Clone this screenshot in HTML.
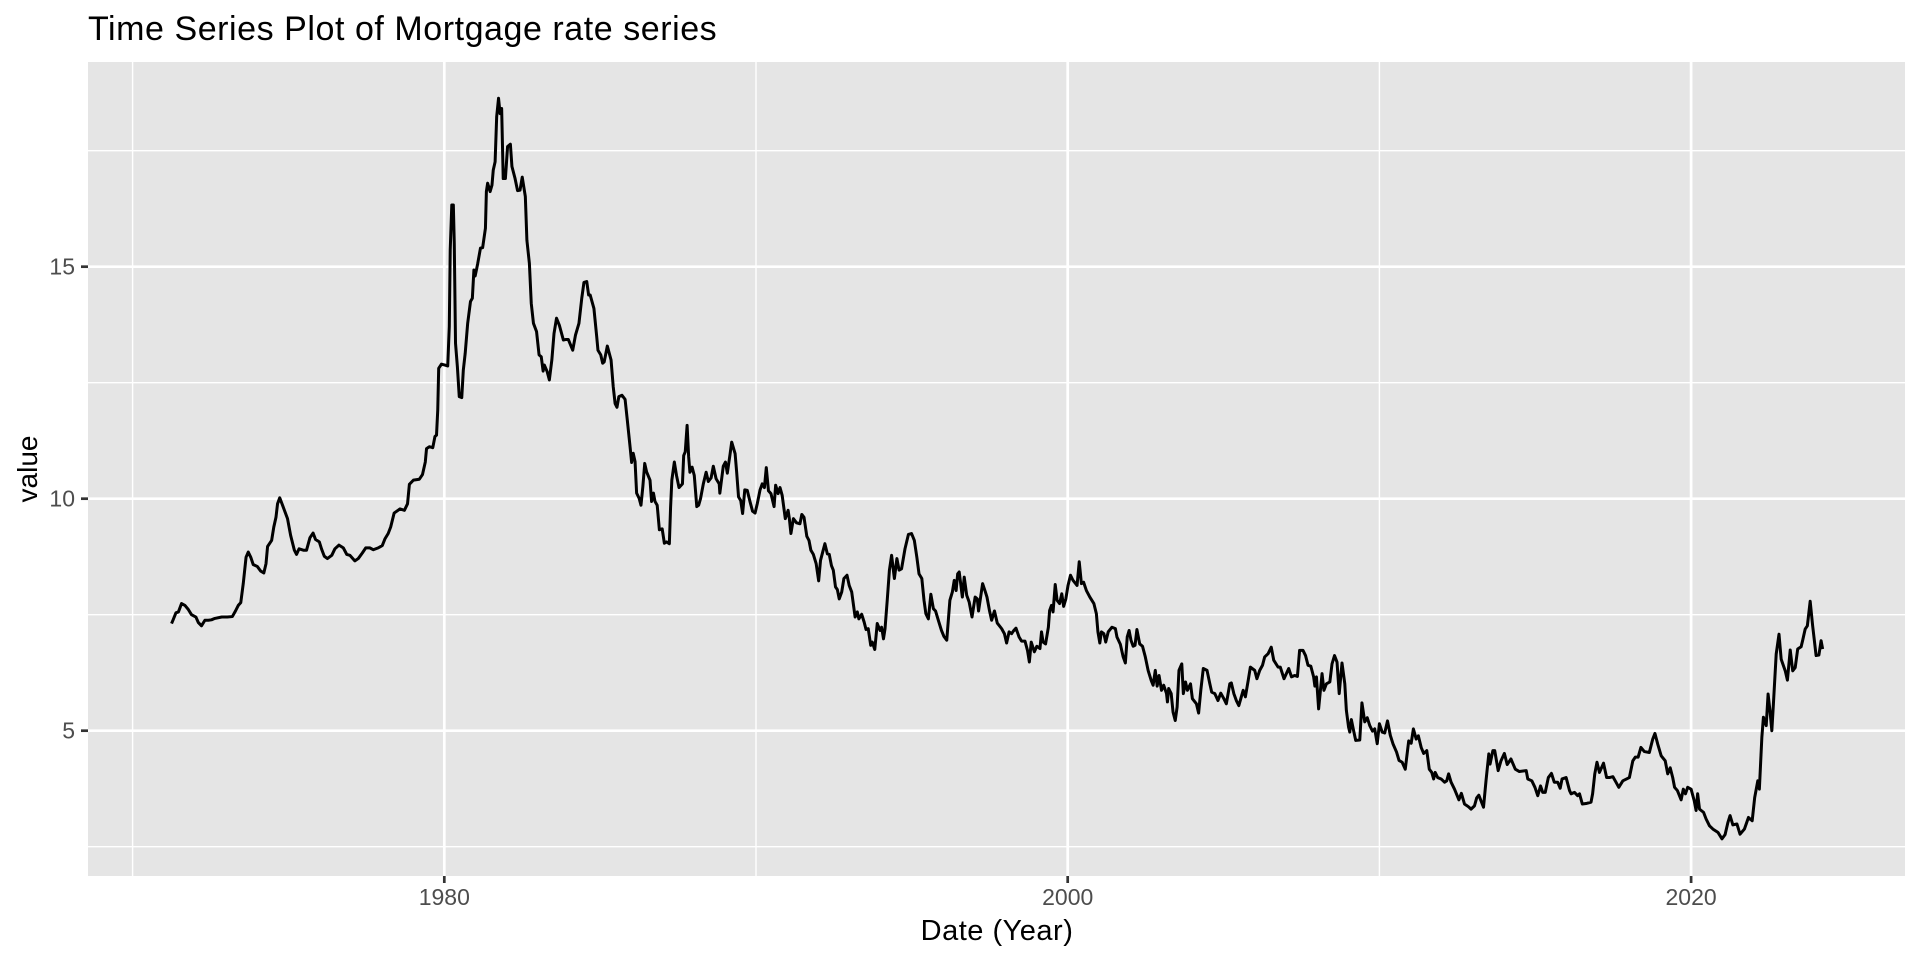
<!DOCTYPE html>
<html lang="en">
<head>
<meta charset="utf-8">
<title>Time Series Plot of Mortgage rate series</title>
<style>
html,body{margin:0;padding:0;background:#fff;width:1920px;height:960px;overflow:hidden}
svg{display:block}
text{font-family:"Liberation Sans",Arial,sans-serif}
</style>
</head>
<body>
<svg id="chart" xmlns="http://www.w3.org/2000/svg" width="1920" height="960" viewBox="0 0 1920 960">
<rect x="0" y="0" width="1920" height="960" fill="#ffffff"/>
<rect x="88" y="62" width="1817" height="814" fill="#e5e5e5"/>
<g id="grid"></g>
<g id="series"></g>
<g id="axes"></g>
<text x="88" y="40" font-size="34" letter-spacing="0.55" fill="#000">Time Series Plot of Mortgage rate series</text>
<text x="997" y="940" font-size="29" letter-spacing="0.5" fill="#000" text-anchor="middle">Date (Year)</text>
<text transform="translate(37,469) rotate(-90)" font-size="28" fill="#000" text-anchor="middle">value</text>
</svg>
<script>
const xTickYears = [1980, 2000, 2020];
const xMinorYears = [1970, 1990, 2010];
const yTickValues = [5, 10, 15];
const yMinorValues = [2.5, 7.5, 12.5, 17.5];

const dates = [
1971.25,1971.30,1971.39,1971.47,1971.57,1971.68,1971.79,1971.89,1972.03,1972.11,1972.21,1972.32,1972.43,1972.53,1972.64,1972.86,1973.04,1973.20,1973.30,1973.39,1973.47,1973.55,1973.64,1973.71,1973.79,1973.87,1974.00,1974.11,1974.21,1974.28,1974.33,1974.46,1974.53,1974.60,1974.65,1974.72,1974.81,1974.97,1975.07,1975.19,1975.26,1975.34,1975.48,1975.58,1975.69,1975.79,1975.87,1975.99,1976.06,1976.15,1976.25,1976.39,1976.49,1976.62,1976.76,1976.87,1976.97,1977.13,1977.24,1977.37,1977.48,1977.61,1977.72,1977.88,1978.01,1978.10,1978.20,1978.28,1978.39,1978.58,1978.72,1978.82,1978.88,1979.01,1979.20,1979.30,1979.39,
1979.43,1979.52,1979.63,1979.70,1979.75,1979.79,1979.82,1979.91,1980.02,1980.11,1980.16,1980.19,1980.24,1980.29,1980.32,1980.36,1980.42,1980.48,1980.56,1980.61,1980.67,1980.75,1980.84,1980.90,1980.95,1980.99,1981.07,1981.16,1981.23,1981.32,1981.35,1981.39,1981.47,1981.53,1981.57,1981.63,1981.68,1981.74,1981.79,1981.84,1981.89,1981.96,1982.03,1982.12,1982.17,1982.27,1982.35,1982.43,1982.50,1982.60,1982.65,1982.73,1982.79,1982.86,1982.96,1983.04,1983.11,1983.17,1983.21,1983.30,1983.37,1983.45,1983.52,1983.60,1983.69,1983.82,1983.89,1983.98,1984.12,1984.21,1984.32,1984.41,1984.48,1984.57,1984.63,1984.68,1984.80,1984.89,1984.93,1985.02,1985.08,1985.13,1985.23,1985.35,1985.42,1985.48,1985.54,1985.60,1985.70,1985.80,1985.87,
1985.96,1986.01,1986.06,1986.12,1986.17,1986.25,1986.31,1986.37,1986.43,1986.49,1986.60,1986.65,1986.71,1986.76,1986.83,1986.90,
1986.99,1987.06,1987.13,1987.22,1987.26,1987.30,1987.38,1987.45,1987.53,1987.64,1987.68,1987.73,1987.79,1987.84,1987.88,1987.95,1988.02,1988.10,1988.16,1988.22,1988.31,1988.40,1988.47,1988.56,1988.63,1988.72,1988.82,1988.84,1988.95,1989.02,1989.08,1989.17,1989.22,1989.33,1989.38,1989.44,1989.51,1989.57,1989.64,1989.72,1989.81,1989.89,1989.97,1990.04,1990.13,1990.20,1990.27,1990.33,1990.40,1990.48,1990.58,1990.63,1990.71,1990.77,1990.84,1990.94,1991.03,1991.07,1991.12,1991.20,1991.30,1991.41,1991.47,1991.54,1991.63,1991.70,1991.76,1991.84,1991.93,1992.01,1992.07,1992.14,1992.21,1992.29,1992.35,1992.42,1992.48,1992.55,1992.61,1992.67,1992.75,1992.82,1992.92,1992.99,1993.07,1993.18,1993.25,1993.30,1993.39,1993.47,1993.53,1993.60,1993.68,1993.73,1993.81,1993.89,1993.98,1994.03,1994.09,1994.14,1994.21,1994.28,1994.35,1994.44,1994.52,1994.59,1994.67,1994.78,1994.89,1994.99,1995.08,1995.16,1995.23,1995.32,1995.39,1995.45,1995.53,1995.61,1995.69,1995.76,1995.85,1995.95,1996.03,1996.12,1996.17,1996.22,1996.30,1996.36,1996.42,1996.47,1996.52,1996.62,1996.68,1996.76,1996.84,1996.93,1997.03,1997.10,1997.14,1997.27,1997.35,1997.41,1997.49,1997.56,1997.65,1997.74,1997.88,1997.97,1998.04,1998.12,1998.20,1998.26,1998.34,1998.44,1998.52,1998.63,1998.71,1998.77,1998.83,1998.93,1999.01,1999.11,
1999.16,1999.21,1999.29,1999.38,1999.42,1999.48,1999.53,1999.60,1999.66,1999.74,1999.81,1999.87,1999.94,2000.01,2000.09,2000.17,2000.30,2000.37,2000.44,2000.51,2000.60,2000.71,2000.84,2000.92,2000.97,2001.03,2001.08,2001.16,2001.22,2001.30,2001.42,2001.53,2001.58,2001.69,2001.78,2001.85,2001.91,2001.97,2002.03,2002.10,2002.16,2002.22,2002.31,2002.40,2002.49,2002.58,2002.68,2002.74,2002.81,2002.87,2002.93,2003.01,2003.08,2003.17,2003.20,2003.24,2003.32,2003.38,2003.45,2003.51,2003.57,2003.66,2003.71,2003.78,2003.84,2003.94,2004.00,2004.13,2004.20,2004.27,2004.35,2004.47,2004.56,2004.62,2004.72,2004.82,2004.91,2005.01,2005.09,2005.20,2005.25,2005.33,2005.41,2005.49,2005.57,2005.63,2005.70,2005.79,2005.86,2006.00,2006.07,2006.16,2006.25,2006.32,2006.43,2006.53,2006.61,2006.75,2006.82,2006.94,2007.09,2007.18,2007.28,2007.37,2007.44,2007.55,2007.63,2007.71,2007.80,2007.89,2007.93,2007.98,2008.05,2008.16,2008.22,2008.30,2008.41,2008.48,2008.56,2008.64,2008.71,2008.80,2008.89,2008.94,2009.01,2009.05,2009.10,2009.16,2009.24,2009.37,2009.44,2009.53,2009.61,2009.69,2009.78,2009.85,2009.93,2010.00,2010.09,2010.17,2010.26,2010.35,2010.44,2010.55,2010.63,
2010.73,2010.83,2010.94,2011.02,2011.09,2011.18,2011.25,2011.34,2011.42,2011.52,2011.60,2011.68,2011.74,2011.79,2011.87,2011.98,2012.09,2012.16,2012.22,2012.30,2012.41,2012.55,2012.63,2012.73,2012.86,2012.94,2013.05,2013.12,2013.19,2013.34,2013.42,2013.51,2013.55,2013.64,2013.70,2013.81,2013.90,2014.01,2014.10,2014.22,2014.36,2014.49,2014.71,2014.76,2014.89,2014.99,2015.08,2015.17,2015.24,2015.32,2015.42,2015.52,2015.61,2015.72,2015.80,2015.86,2015.99,2016.10,2016.15,2016.26,2016.36,2016.42,2016.51,2016.63,2016.79,2016.84,2016.91,2016.98,2017.06,2017.19,2017.29,2017.38,2017.49,2017.59,2017.68,2017.81,2018.02,2018.13,2018.21,2018.30,2018.39,2018.50,2018.66,2018.77,2018.84,2018.93,2019.04,2019.17,2019.25,2019.33,2019.41,2019.47,2019.56,2019.68,2019.75,2019.82,2019.89,2020.00,2020.10,2020.16,2020.21,2020.27,2020.40,2020.48,2020.59,2020.70,2020.86,2020.99,2021.09,2021.18,2021.25,2021.34,2021.47,2021.57,2021.71,2021.84,2021.96,2022.04,2022.14,2022.19,2022.27,2022.32,2022.41,2022.47,2022.53,2022.59,2022.64,2022.73,2022.82,2022.89,2023.02,2023.09,2023.18,2023.26,2023.34,2023.42,2023.53,2023.58,2023.66,2023.73,2023.82,2023.90,2024.01,2024.10,2024.17,2024.22
];

const rates = [
7.31,7.39,7.54,7.56,7.74,7.70,7.61,7.50,7.45,7.33,7.26,7.38,7.38,7.39,7.42,7.45,7.45,7.46,7.58,7.70,7.76,8.17,8.74,8.85,8.74,8.58,8.54,8.44,8.40,8.60,8.97,9.10,9.39,9.60,9.89,10.02,9.86,9.57,9.21,8.89,8.80,8.92,8.89,8.89,9.16,9.26,9.12,9.07,8.92,8.76,8.71,8.78,8.92,9.00,8.94,8.80,8.78,8.66,8.71,8.83,8.94,8.94,8.90,8.94,8.99,9.14,9.25,9.39,9.69,9.78,9.75,9.89,10.31,10.40,10.42,10.52,10.79,
11.08,11.12,11.10,11.34,11.37,11.91,12.81,12.90,12.88,12.86,13.71,15.36,16.33,16.33,15.50,13.35,12.84,12.20,12.18,12.77,13.13,13.78,14.25,14.32,14.93,14.80,15.06,15.40,15.41,15.83,16.62,16.80,16.62,16.76,17.08,17.26,18.23,18.63,18.30,18.41,16.90,16.90,17.59,17.64,17.16,16.90,16.64,16.65,16.93,16.51,15.57,15.07,14.21,13.78,13.60,13.10,13.06,12.75,12.88,12.74,12.56,12.99,13.56,13.89,13.74,13.42,13.43,13.43,13.20,13.53,13.78,14.32,14.66,14.68,14.39,14.39,14.10,13.49,13.20,13.10,12.92,12.95,13.29,12.99,12.41,12.05,11.97,12.20,12.23,12.14,11.70,
11.12,10.78,10.98,10.80,10.12,10.01,9.86,10.26,10.76,10.58,10.40,9.94,10.12,9.94,9.86,9.33,
9.35,9.04,9.07,9.03,9.82,10.40,10.79,10.50,10.24,10.32,10.93,11.01,11.58,10.90,10.57,10.68,10.50,9.83,9.86,10.00,10.32,10.57,10.37,10.45,10.70,10.43,10.32,10.12,10.70,10.79,10.55,10.97,11.22,10.97,10.57,10.04,9.96,9.68,10.19,10.18,9.93,9.73,9.69,9.89,10.19,10.32,10.24,10.67,10.17,10.11,9.83,10.29,10.11,10.24,10.07,9.57,9.75,9.57,9.25,9.57,9.48,9.46,9.66,9.60,9.19,9.10,8.89,8.80,8.60,8.23,8.67,8.85,9.03,8.81,8.80,8.56,8.46,8.10,8.04,7.84,7.99,8.28,8.35,8.13,7.99,7.45,7.56,7.41,7.51,7.34,7.18,7.20,6.84,6.91,6.75,7.31,7.16,7.23,6.98,7.20,7.81,8.46,8.78,8.28,8.71,8.46,8.49,8.92,9.23,9.25,9.10,8.74,8.38,8.28,7.81,7.52,7.41,7.94,7.63,7.58,7.38,7.16,7.03,6.95,7.38,7.81,7.99,8.24,8.02,8.38,8.42,7.88,8.31,7.92,7.77,7.45,7.88,7.84,7.58,8.17,8.01,7.88,7.59,7.38,7.58,7.32,7.20,7.09,6.89,7.13,7.09,7.15,7.21,7.02,6.93,6.93,6.73,6.48,6.91,6.70,6.82,6.77,
7.13,6.91,6.87,7.23,7.59,7.70,7.56,8.15,7.81,7.74,7.95,7.68,7.84,8.13,8.35,8.24,8.13,8.64,8.17,8.20,8.02,7.88,7.74,7.52,7.13,6.89,7.13,7.09,6.91,7.13,7.23,7.20,7.02,6.86,6.59,6.46,7.02,7.16,6.95,6.82,6.84,7.18,6.87,6.82,6.59,6.30,6.08,5.98,6.30,5.96,6.19,5.87,5.98,5.80,5.62,5.91,5.80,5.40,5.22,5.51,6.30,6.44,5.80,6.05,5.87,6.01,5.69,5.58,5.38,5.87,6.34,6.30,6.01,5.83,5.80,5.65,5.81,5.69,5.58,6.01,6.03,5.80,5.65,5.54,5.73,5.87,5.73,6.08,6.37,6.30,6.12,6.30,6.41,6.59,6.66,6.80,6.52,6.37,6.37,6.12,6.34,6.16,6.19,6.17,6.73,6.73,6.62,6.41,6.39,6.16,5.96,6.16,5.47,6.23,5.87,6.01,6.05,6.44,6.62,6.48,5.80,6.46,6.01,5.44,5.08,4.97,5.24,5.04,4.79,4.80,5.60,5.19,5.28,5.11,4.99,5.04,4.72,5.15,4.97,4.95,5.21,4.90,4.71,4.54,4.36,
4.32,4.17,4.78,4.73,5.04,4.82,4.89,4.64,4.51,4.57,4.17,4.10,3.96,4.10,3.99,3.96,3.89,3.92,4.07,3.89,3.74,3.51,3.65,3.42,3.36,3.31,3.38,3.55,3.61,3.35,3.92,4.50,4.28,4.57,4.57,4.14,4.35,4.51,4.27,4.39,4.17,4.12,4.14,3.96,3.92,3.78,3.60,3.81,3.67,3.67,3.99,4.08,3.89,3.89,3.76,3.96,3.99,3.71,3.64,3.67,3.60,3.64,3.42,3.43,3.46,3.64,4.07,4.32,4.10,4.30,3.99,3.99,4.01,3.89,3.78,3.92,3.99,4.35,4.43,4.43,4.64,4.55,4.53,4.82,4.94,4.71,4.46,4.35,4.07,4.20,3.99,3.78,3.71,3.51,3.74,3.64,3.78,3.74,3.49,3.28,3.64,3.31,3.24,3.10,2.95,2.88,2.81,2.67,2.76,3.02,3.17,2.97,2.99,2.77,2.88,3.13,3.06,3.56,3.92,3.74,4.86,5.29,5.11,5.79,5.43,5.00,5.57,6.65,7.08,6.54,6.29,6.09,6.74,6.29,6.36,6.76,6.81,6.95,7.19,7.26,7.79,7.26,6.62,6.63,6.94,6.76
];

const SVG_NS = 'http://www.w3.org/2000/svg';
const PANEL = { left: 88, right: 1905, top: 62, bottom: 876 };
function xScale(year) { return 444.3 + (year - 1980) * 31.17; }
function yScale(value) { return 266.7 + (15 - value) * 46.4; }

const gridLayer = document.getElementById('grid');
const seriesLayer = document.getElementById('series');
const axesLayer = document.getElementById('axes');

function line(parent, x1, y1, x2, y2, color, width) {
  const el = document.createElementNS(SVG_NS, 'line');
  el.setAttribute('x1', x1);
  el.setAttribute('y1', y1);
  el.setAttribute('x2', x2);
  el.setAttribute('y2', y2);
  el.setAttribute('stroke', color);
  el.setAttribute('stroke-width', width);
  parent.appendChild(el);
  return el;
}
function label(parent, x, y, anchor, content) {
  const el = document.createElementNS(SVG_NS, 'text');
  el.setAttribute('x', x);
  el.setAttribute('y', y);
  el.setAttribute('text-anchor', anchor);
  el.setAttribute('font-size', '23');
  el.setAttribute('fill', '#4d4d4d');
  el.textContent = content;
  parent.appendChild(el);
  return el;
}

yMinorValues.forEach(function (v) {
  const el = line(gridLayer, PANEL.left, yScale(v), PANEL.right, yScale(v), '#ffffff', 1.4);
  
  
});
xMinorYears.forEach(function (yr) {
  const el = line(gridLayer, xScale(yr), PANEL.top, xScale(yr), PANEL.bottom, '#ffffff', 1.4);
  
  
});
yTickValues.forEach(function (v) {
  const grid = line(gridLayer, PANEL.left, yScale(v), PANEL.right, yScale(v), '#ffffff', 2.7);
  
  
  const tick = line(axesLayer, PANEL.left - 7, yScale(v), PANEL.left, yScale(v), '#333333', 2.7);
  
  
  const text = label(axesLayer, 75, yScale(v) + 8, 'end', String(v));
  
  
});
xTickYears.forEach(function (yr) {
  const grid = line(gridLayer, xScale(yr), PANEL.top, xScale(yr), PANEL.bottom, '#ffffff', 2.7);
  
  
  const tick = line(axesLayer, xScale(yr), PANEL.bottom, xScale(yr), PANEL.bottom + 7, '#333333', 2.7);
  
  
  const text = label(axesLayer, xScale(yr), 905, 'middle', String(yr));
  
  
});

const pathData = dates.map(function (d, i) {
  return (i === 0 ? 'M' : 'L') + xScale(d).toFixed(2) + ' ' + yScale(rates[i]).toFixed(2);
}).join(' ');
const seriesPath = document.createElementNS(SVG_NS, 'path');
seriesPath.setAttribute('d', pathData);
seriesPath.setAttribute('fill', 'none');
seriesPath.setAttribute('stroke', '#000000');
seriesPath.setAttribute('stroke-width', '3');
seriesPath.setAttribute('stroke-linejoin', 'round');


seriesLayer.appendChild(seriesPath);
</script>
</body>
</html>
